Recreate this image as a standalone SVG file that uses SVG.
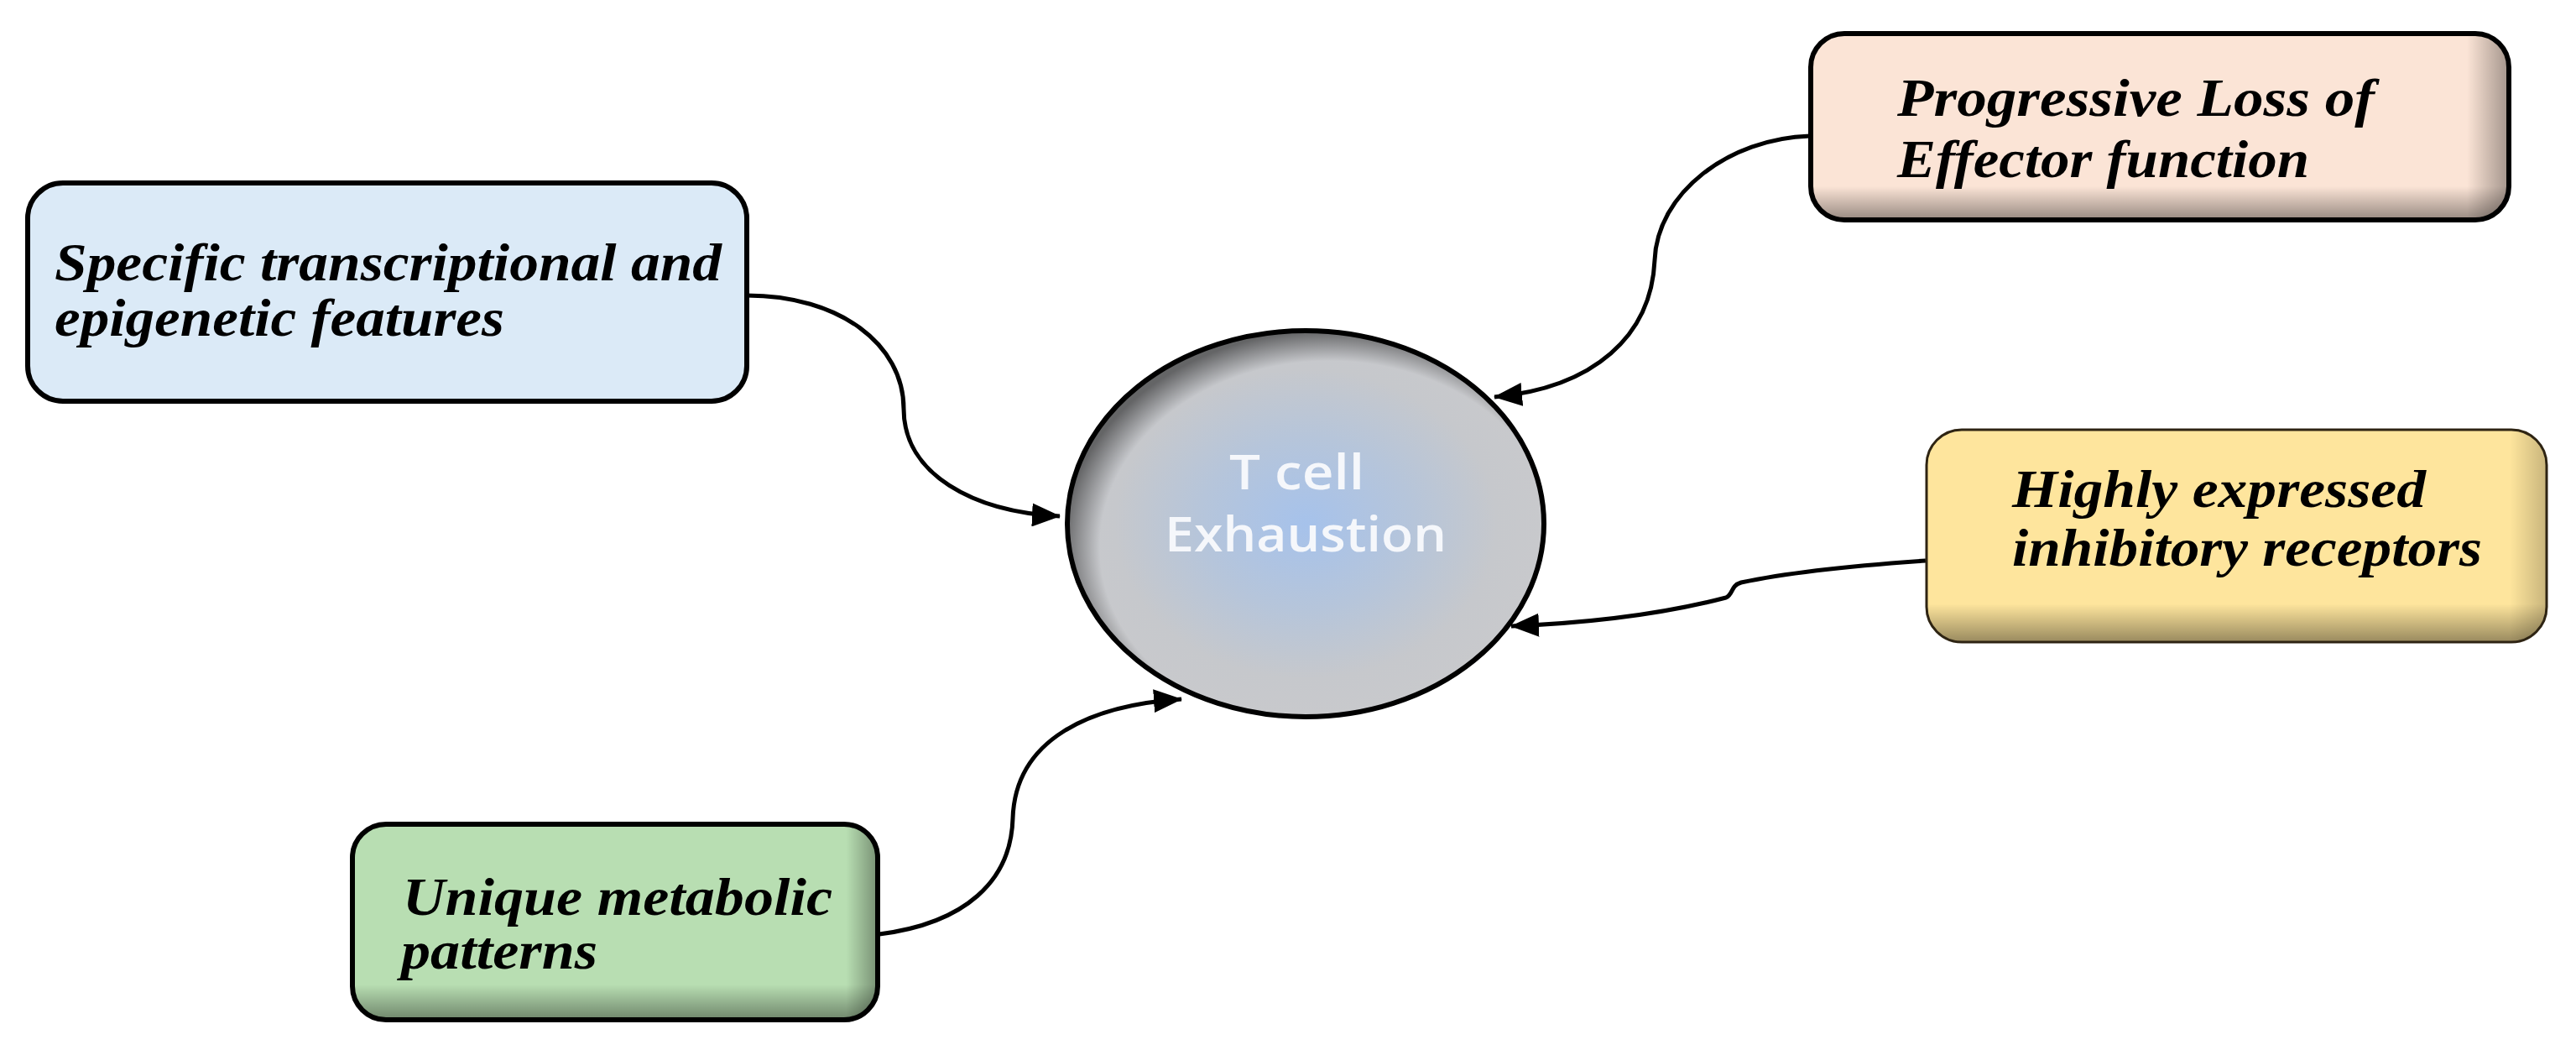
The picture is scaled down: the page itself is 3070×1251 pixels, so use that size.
<svg xmlns="http://www.w3.org/2000/svg" width="3070" height="1251" viewBox="0 0 3070 1251">
  <style>
    .lbl { font-family: "Liberation Serif", "Times New Roman", serif; font-weight: bold; font-style: italic; font-size: 63px; fill: #000; }
    .core { font-family: "Open Sans", "Liberation Sans", sans-serif; font-weight: 600; font-size: 58px; fill: #f5f7fb; }
    .box { stroke: #000; stroke-width: 6; }
    .conn { fill: none; stroke: #000; stroke-width: 5; }
  </style>
  <defs>
    <marker id="arrow" viewBox="0 0 34 28" markerUnits="userSpaceOnUse" markerWidth="34" markerHeight="28" refX="33" refY="14" orient="auto">
      <path d="M0,0 L34,14 L0,28 z" fill="#000"/>
    </marker>
    <radialGradient id="coreFill" cx="0.5" cy="0.5" r="0.5">
      <stop offset="0" stop-color="#a6c2eb"/>
      <stop offset="0.45" stop-color="#b6c5da"/>
      <stop offset="0.8" stop-color="#c6c8cc"/>
      <stop offset="1" stop-color="#c8c9cc"/>
    </radialGradient>
    <radialGradient id="coreShade" cx="0.55" cy="0.56" r="0.56">
      <stop offset="0.86" stop-color="#000" stop-opacity="0"/>
      <stop offset="1" stop-color="#000" stop-opacity="0.5"/>
    </radialGradient>
    <linearGradient id="bottomShade" x1="0" y1="0" x2="0" y2="1">
      <stop offset="0.82" stop-color="#000" stop-opacity="0"/>
      <stop offset="1" stop-color="#000" stop-opacity="0.4"/>
    </linearGradient>
    <linearGradient id="rightShade" x1="0" y1="0" x2="1" y2="0">
      <stop offset="0.94" stop-color="#000" stop-opacity="0"/>
      <stop offset="1" stop-color="#000" stop-opacity="0.35"/>
    </linearGradient>
  </defs>
  <rect width="3070" height="1251" fill="#fff"/>

  <g id="connectors">
    <path class="conn" marker-end="url(#arrow)" d="M890,352 C1000,352 1077,410 1077,487 C1077,565 1160,610 1263,615"/>
    <path class="conn" marker-end="url(#arrow)" d="M2157,162 C2060,165 1975,230 1972,310 C1968,400 1900,462 1781,473"/>
    <path class="conn" marker-end="url(#arrow)" d="M2295,668 Q2150,678 2075,694 C2062,698 2066,708 2057,712 Q1950,740 1801,746"/>
    <path class="conn" marker-end="url(#arrow)" d="M1048,1113 C1150,1100 1205,1050 1207,975 C1210,880 1300,840 1408,833"/>
  </g>

  <g id="node-core">
    <ellipse cx="1556" cy="624" rx="284" ry="230" fill="url(#coreFill)"/>
    <ellipse cx="1556" cy="624" rx="284" ry="230" fill="url(#coreShade)"/>
    <ellipse cx="1556" cy="624" rx="284" ry="230" fill="none" stroke="#000" stroke-width="6"/>
    <text class="core" x="1465" y="583" textLength="161" lengthAdjust="spacingAndGlyphs">T cell</text>
    <text class="core" x="1388" y="657" textLength="336" lengthAdjust="spacingAndGlyphs">Exhaustion</text>
  </g>

  <g id="node-transcriptional">
    <rect class="box" x="33" y="218" width="857" height="260" rx="42" fill="#dbeaf7"/>
    <text class="lbl" x="65" y="334" textLength="795" lengthAdjust="spacingAndGlyphs">Specific transcriptional and</text>
    <text class="lbl" x="65" y="400" textLength="536" lengthAdjust="spacingAndGlyphs">epigenetic features</text>
  </g>

  <g id="node-effector">
    <rect x="2158" y="40" width="832" height="222" rx="40" fill="#fbe4d6"/>
    <rect x="2158" y="40" width="832" height="222" rx="40" fill="url(#bottomShade)"/>
    <rect x="2158" y="40" width="832" height="222" rx="40" fill="url(#rightShade)"/>
    <rect class="box" x="2158" y="40" width="832" height="222" rx="40" fill="none"/>
    <text class="lbl" x="2261" y="138" textLength="569" lengthAdjust="spacingAndGlyphs">Progressive Loss of</text>
    <text class="lbl" x="2261" y="211" textLength="491" lengthAdjust="spacingAndGlyphs">Effector function</text>
  </g>

  <g id="node-inhibitory">
    <rect x="2296" y="512" width="739" height="253" rx="42" fill="#fee59d"/>
    <rect x="2296" y="512" width="739" height="253" rx="42" fill="url(#bottomShade)"/>
    <rect x="2296" y="512" width="739" height="253" rx="42" fill="url(#rightShade)" opacity="0.6"/>
    <rect x="2296" y="512" width="739" height="253" rx="42" fill="none" stroke="#2e2413" stroke-width="3"/>
    <text class="lbl" x="2398" y="604" textLength="493" lengthAdjust="spacingAndGlyphs">Highly expressed</text>
    <text class="lbl" x="2398" y="674" textLength="560" lengthAdjust="spacingAndGlyphs">inhibitory receptors</text>
  </g>

  <g id="node-metabolic">
    <rect x="420" y="982" width="626" height="233" rx="40" fill="#b8deb2"/>
    <rect x="420" y="982" width="626" height="233" rx="40" fill="url(#bottomShade)"/>
    <rect x="420" y="982" width="626" height="233" rx="40" fill="url(#rightShade)"/>
    <rect class="box" x="420" y="982" width="626" height="233" rx="40" fill="none"/>
    <text class="lbl" x="480" y="1090" textLength="512" lengthAdjust="spacingAndGlyphs">Unique metabolic</text>
    <text class="lbl" x="478" y="1154" textLength="234" lengthAdjust="spacingAndGlyphs">patterns</text>
  </g>
</svg>
